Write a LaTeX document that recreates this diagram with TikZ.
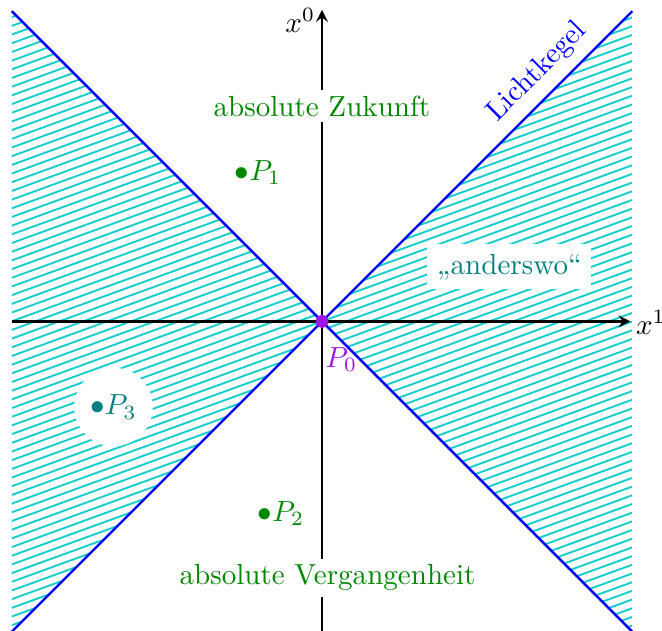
\documentclass[tikz,border=0pt]{standalone}
\usepackage{amsmath,amssymb}
\usepackage{tikz}

\definecolor{hatchcol}{RGB}{20,205,205}
\definecolor{pnull}{RGB}{160,20,230}
\definecolor{dkgreen}{RGB}{0,135,0}

\tikzset{
  cone/.style={blue, line width=0.8pt},
  axis/.style={-stealth, line width=0.8pt},
  region/.style={fill=white, inner sep=2pt},
}

\begin{document}
\begin{tikzpicture}[x=0.75cm, y=0.75cm]
    \useasboundingbox (-5.19,-4.98) rectangle (5.48,5.18);

    % schraffierte Bereiche (raumartig)
    \begin{scope}
      \clip (-5,5) -- (0,0) -- (-5,-5) -- cycle (5,5) -- (0,0) -- (5,-5) -- cycle;
      \foreach \c in {-7,-6.86,...,7}
        \draw[hatchcol, line width=0.65pt] (-5.2,\c-1.89) -- (5.2,\c+1.89);
    \end{scope}

    % Achsen
    \coordinate (xl) at (-5,0);
    \coordinate (xr) at (4.97,0);
    \coordinate (yb) at (0,-5);
    \coordinate (yt) at (0,5.02);
    \draw[axis] (xl) -- (xr);
    \draw[axis] (yb) -- (yt);
    \node (x1) at (5.3,-0.02) {$x^1$};
    \node (x0) at (-0.35,4.85) {$x^0$};

    % Lichtkegel
    \coordinate (ol) at (-5,5);
    \coordinate (or) at (5,5);
    \coordinate (ul) at (-5,-5);
    \coordinate (ur) at (5,-5);
    \draw[cone] (ol) -- (ur);
    \draw[cone] (ul) -- (or);
    \node[blue, rotate=45] (lk) at (3.47,4.02) {Lichtkegel};

    % Ereignisse
    \fill[pnull] (0,0) circle (2.2pt);
    \node[pnull] (p0) at (0.31,-0.62) {$P_0$};
    \node[dkgreen] (p1) at (-1.03,2.4) {$\bullet P_1$};
    \node[dkgreen] (p2) at (-0.66,-3.1) {$\bullet P_2$};
    \node[teal, circle, fill=white] (p3) at (-3.36,-1.38) {$\bullet P_3$};

    \node[dkgreen, region] (zuk) at (0,3.47) {absolute Zukunft};
    \node[dkgreen, region] (verg) at (0.09,-4.13) {absolute Vergangenheit};
    \node[teal, fill=white] (anders) at (3.02,0.88) {,,anderswo``};
  \end{tikzpicture}
\end{document}
